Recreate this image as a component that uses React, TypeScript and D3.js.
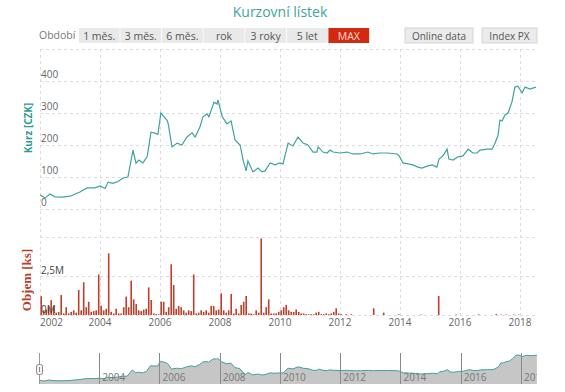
import React, { useEffect, useRef } from 'react';
import * as d3 from 'd3';

// price (CZK), sampled in decimal years
const priceYears = [
  2002.0, 2002.17, 2002.33, 2002.5, 2002.73, 2003.0, 2003.33, 2003.57, 2003.83, 2004.0,
  2004.17, 2004.27, 2004.43, 2004.6, 2004.77, 2004.93, 2005.1, 2005.2, 2005.3, 2005.43,
  2005.57, 2005.7, 2005.83, 2005.93, 2006.03, 2006.23, 2006.27, 2006.4, 2006.57, 2006.73,
  2006.9, 2007.07, 2007.17, 2007.33, 2007.43, 2007.57, 2007.63, 2007.8, 2007.9, 2007.93,
  2008.07, 2008.23, 2008.37, 2008.5, 2008.67, 2008.77, 2008.87, 2008.93, 2009.1, 2009.27,
  2009.4, 2009.5, 2009.67, 2009.83, 2010.0, 2010.1, 2010.27, 2010.43, 2010.6, 2010.77,
  2010.93, 2011.1, 2011.23, 2011.27, 2011.43, 2011.57, 2011.67, 2011.77, 2012.0, 2012.23,
  2012.43, 2012.67, 2012.93, 2013.1, 2013.33, 2013.57, 2013.9, 2013.97, 2014.1, 2014.27,
  2014.43, 2014.6, 2014.73, 2014.9, 2015.07, 2015.23, 2015.3, 2015.43, 2015.57, 2015.63,
  2015.77, 2015.93, 2016.1, 2016.27, 2016.43, 2016.57, 2016.67, 2016.9, 2017.07, 2017.17,
  2017.27, 2017.33, 2017.4, 2017.5, 2017.6, 2017.73, 2017.83, 2017.93, 2018.07, 2018.17,
  2018.33, 2018.53,
];
const priceValues = [
  44, 34, 47, 38, 37, 40, 53, 66, 66, 72,
  64, 84, 80, 86, 97, 100, 184, 143, 153, 144,
  163, 240, 237, 233, 300, 278, 268, 194, 206, 200,
  225, 238, 225, 256, 288, 297, 288, 334, 328, 341,
  290, 266, 275, 216, 200, 153, 119, 150, 116, 128,
  116, 119, 144, 138, 144, 141, 206, 197, 225, 206,
  200, 178, 178, 194, 178, 175, 184, 178, 175, 178,
  172, 172, 178, 172, 175, 175, 172, 166, 144, 141,
  138, 131, 128, 134, 138, 131, 156, 166, 187, 156,
  153, 163, 166, 187, 175, 175, 184, 187, 187, 206,
  231, 278, 275, 294, 300, 334, 381, 384, 363, 381,
  375, 381,
];

// monthly volume (millions of shares), from January 2002
const volumeValues = [
  1.2, 0.3, 0.35, 0.5, 0.95, 0.55, 0.15, 0.2, 1.28, 0.1, 0.5, 0.1,
  0.2, 0.3, 0.15, 1.6, 0.3, 2.1, 0.5, 0.85, 0.2, 0.25, 0.3, 2.6,
  0.6, 0.3, 0.4, 3.95, 0.2, 0.1, 0.4, 0.1, 0.1, 0.5, 1.18, 0.5,
  2.2, 1.0, 0.7, 0.3, 0.25, 0.35, 0.4, 1.77, 0.96, 0.1, 0.05, 0.05,
  0.85, 0.85, 0.2, 0.5, 3.25, 1.92, 0.4, 0.58, 0.5, 0.3, 0.15, 0.3,
  0.25, 2.6, 0.1, 0.15, 0.3, 0.2, 0.3, 0.15, 0.58, 0.58, 0.3, 0.35,
  1.39, 0.3, 0.15, 0.3, 1.35, 0.1, 0.4, 0.1, 0.64, 0.85, 1.22, 0.1,
  0.1, 0.05, 0.3, 0.15, 4.91, 0.15, 0.5, 1.0, 0.1, 0.1, 0.1, 0.2,
  0.3, 0.5, 0.65, 0.3, 0.2, 0.2, 0.35, 0.2, 0.1, 0.1, 0.05, 0.05,
  0.05, 0.05, 0.15, 0.2, 0.05, 0.05, 0.1, 0.05, 0.1, 0.2, 0.43, 0.1,
  0.05, 0, 0.05, 0, 0.05, 0, 0, 0, 0, 0, 0, 0,
  0, 0.43, 0, 0, 0, 0.15, 0, 0, 0, 0, 0, 0.05,
  0, 0, 0, 0, 0, 0, 0, 0, 0.03, 0, 0, 0,
  0, 0, 0, 1.22, 0, 0, 0, 0, 0, 0, 0.03, 0,
  0, 0, 0, 0, 0, 0, 0, 0.04, 0, 0, 0, 0,
  0, 0, 0.06, 0, 0.03, 0, 0.03, 0, 0, 0.03, 0, 0.03,
  0, 0, 0, 0,
];

const priceTicks = [0, 100, 200, 300, 400, 500];
const volumeTicks = [0, 2.5, 5];
const volumeTickLabels = ['0M', '2,5M', ''];
const yearTicks = [2002, 2004, 2006, 2008, 2010, 2012, 2014, 2016, 2018];
const navYears = [2004, 2006, 2008, 2010, 2012, 2014, 2016, 2018];
const periodButtons = ['1 měs.', '3 měs.', '6 měs.', 'rok', '3 roky', '5 let', 'MAX'];
const extraButtons = ['Online data', 'Index PX'];

const FONT = '"Open Sans", "DejaVu Sans", sans-serif';

const App: React.FC = () => {
  const svgRef = useRef<SVGSVGElement>(null);

  useEffect(() => {
    if (!svgRef.current) return;
    const svg = d3.select(svgRef.current);
    svg.selectAll('*').remove();

    const width = 565;
    const height = 392;
    const teal = '#3fa39d';
    const gridColor = '#dcdcdc';
    const labelColor = '#666';

    svg.append('rect').attr('width', width).attr('height', height).attr('fill', '#fff');

    const x = d3.scaleLinear().domain([2002, 2018.533]).range([40, 536]);
    const y = d3.scaleLinear().domain([0, 500]).range([209, 49]);
    const yVol = d3.scaleLinear().domain([0, 5]).range([315, 237]);

    // title
    svg.append('text')
      .attr('x', 280).attr('y', 17)
      .attr('text-anchor', 'middle')
      .style('font-family', FONT)
      .style('font-size', '14px')
      .style('fill', teal)
      .text('Kurzovní lístek');

    // range selector
    svg.append('text')
      .attr('x', 39).attr('y', 39)
      .style('font-family', FONT).style('font-size', '10.5px').style('fill', '#777')
      .text('Období');

    const btnX = d3.scaleBand<string>().domain(periodButtons).range([78, 370]).padding(0.02);
    const btns = svg.append('g').selectAll('g').data(periodButtons).enter().append('g');
    btns.append('rect')
      .attr('x', d => btnX(d)!).attr('y', 28)
      .attr('width', btnX.bandwidth()).attr('height', 15)
      .attr('fill', d => (d === 'MAX' ? '#d22a10' : '#e9e9e9'));
    btns.append('text')
      .attr('x', d => btnX(d)! + btnX.bandwidth() / 2).attr('y', 39.5)
      .attr('text-anchor', 'middle')
      .style('font-family', FONT).style('font-size', '10.5px')
      .style('fill', d => (d === 'MAX' ? '#ffd9d0' : '#555'))
      .text(d => d);

    const extraX = [405, 482];
    const extraW = [68, 55];
    extraButtons.forEach((b, i) => {
      svg.append('rect')
        .attr('x', extraX[i]).attr('y', 28).attr('width', extraW[i]).attr('height', 15)
        .attr('fill', '#ebebeb').attr('stroke', '#d4d4d4');
      svg.append('text')
        .attr('x', extraX[i] + extraW[i] / 2).attr('y', 39.5)
        .attr('text-anchor', 'middle')
        .style('font-family', FONT).style('font-size', '10px').style('fill', '#555')
        .text(b);
    });

    // grid
    const grid = svg.append('g')
      .attr('stroke', gridColor).attr('stroke-dasharray', '3,3').attr('stroke-width', 1);
    grid.selectAll('.hp').data(priceTicks).enter().append('line')
      .attr('x1', 40).attr('x2', 536)
      .attr('y1', d => Math.round(y(d)) + 0.5).attr('y2', d => Math.round(y(d)) + 0.5);
    grid.selectAll('.hv').data(volumeTicks).enter().append('line')
      .attr('x1', 40).attr('x2', 536)
      .attr('y1', d => Math.round(yVol(d)) + 0.5).attr('y2', d => Math.round(yVol(d)) + 0.5);
    grid.selectAll('.vx').data(yearTicks).enter().append('line')
      .attr('x1', d => Math.round(x(d)) + 0.5).attr('x2', d => Math.round(x(d)) + 0.5)
      .attr('y1', 49).attr('y2', 315);

    // y labels
    svg.append('g').selectAll('text').data(priceTicks.filter(d => d < 500)).enter().append('text')
      .attr('x', 41).attr('y', d => y(d) - 3)
      .style('font-family', FONT).style('font-size', '10px').style('fill', labelColor)
      .text(d => d);

    svg.append('text')
      .attr('transform', 'translate(32,128) rotate(-90)')
      .attr('text-anchor', 'middle')
      .style('font-family', FONT).style('font-size', '10px').style('font-weight', '700')
      .style('fill', '#2f9c93')
      .text('Kurz [CZK]');

    svg.append('text')
      .attr('transform', 'translate(31,280) rotate(-90)')
      .attr('text-anchor', 'middle')
      .style('font-family', '"Liberation Serif", "DejaVu Serif", serif')
      .style('font-size', '13px').style('font-weight', '700')
      .style('fill', '#b8402c')
      .text('Objem [ks]');

    // volume bars
    svg.append('g').selectAll('rect').data(volumeValues).enter().append('rect')
      .attr('x', (d, i) => x(2002 + i / 12) + 0.4)
      .attr('y', d => yVol(d))
      .attr('width', 1.6)
      .attr('height', d => yVol(0) - yVol(d))
      .attr('fill', '#c03f2a');

    svg.append('g').selectAll('text').data(volumeTicks).enter().append('text')
      .attr('x', 41).attr('y', d => yVol(d) - 2)
      .style('font-family', FONT).style('font-size', '10px').style('fill', '#444')
      .text((d, i) => volumeTickLabels[i]);

    // price line
    const pts = priceYears.map((t, i) => [t, priceValues[i]] as [number, number]);
    const line = d3.line<[number, number]>().x(d => x(d[0])).y(d => y(d[1]));
    svg.append('path')
      .datum(pts)
      .attr('d', line)
      .attr('fill', 'none')
      .attr('stroke', teal)
      .attr('stroke-width', 1.2);

    // x labels
    svg.append('g').selectAll('text').data(yearTicks).enter().append('text')
      .attr('x', d => (d === 2002 ? 40 : x(d)))
      .attr('y', 326)
      .attr('text-anchor', d => (d === 2002 ? 'start' : 'middle'))
      .style('font-family', FONT).style('font-size', '10px').style('fill', labelColor)
      .text(d => d);

    // navigator
    const nx = d3.scaleLinear().domain([2002, 2018.533]).range([39, 537]);
    const ny = d3.scaleLinear()
      .domain([d3.min(priceValues)!, d3.max(priceValues)!])
      .range([381, 355]);
    const navBottom = 384;

    svg.append('defs').append('clipPath').attr('id', 'navclip')
      .append('rect').attr('x', 39).attr('y', 350).attr('width', 498).attr('height', 40);

    const nav = svg.append('g').attr('clip-path', 'url(#navclip)');
    const area = d3.area<[number, number]>()
      .x(d => nx(d[0])).y0(navBottom).y1(d => ny(d[1]));
    nav.append('path').datum(pts).attr('d', area).attr('fill', '#c6c6c6');
    nav.append('path').datum(pts)
      .attr('d', d3.line<[number, number]>().x(d => nx(d[0])).y(d => ny(d[1])))
      .attr('fill', 'none').attr('stroke', teal).attr('stroke-width', 1);

    nav.selectAll('.nl').data(navYears).enter().append('line')
      .attr('x1', d => Math.round(nx(d)) + 0.5).attr('x2', d => Math.round(nx(d)) + 0.5)
      .attr('y1', 353).attr('y2', navBottom)
      .attr('stroke', '#8a8a8a').attr('stroke-width', 1);
    nav.selectAll('.nt').data(navYears).enter().append('text')
      .attr('x', d => nx(d) + 3).attr('y', 381)
      .style('font-family', FONT).style('font-size', '10px').style('fill', '#777')
      .text(d => d);

    svg.append('line')
      .attr('x1', 39.5).attr('x2', 39.5).attr('y1', 353).attr('y2', navBottom)
      .attr('stroke', '#999');
    svg.append('rect')
      .attr('x', 36.5).attr('y', 364.5).attr('width', 6).attr('height', 10).attr('rx', 2)
      .attr('fill', '#f2f2f2').attr('stroke', '#888');
    svg.append('line')
      .attr('x1', 39.5).attr('x2', 39.5).attr('y1', 367).attr('y2', 372)
      .attr('stroke', '#888');
  }, []);

  return (
    <div style={{ position: 'absolute', left: 0, top: 0, width: 565, height: 392 }}>
      <svg ref={svgRef} width={565} height={392} viewBox="0 0 565 392" style={{ display: 'block' }} />
    </div>
  );
};

export default App;
